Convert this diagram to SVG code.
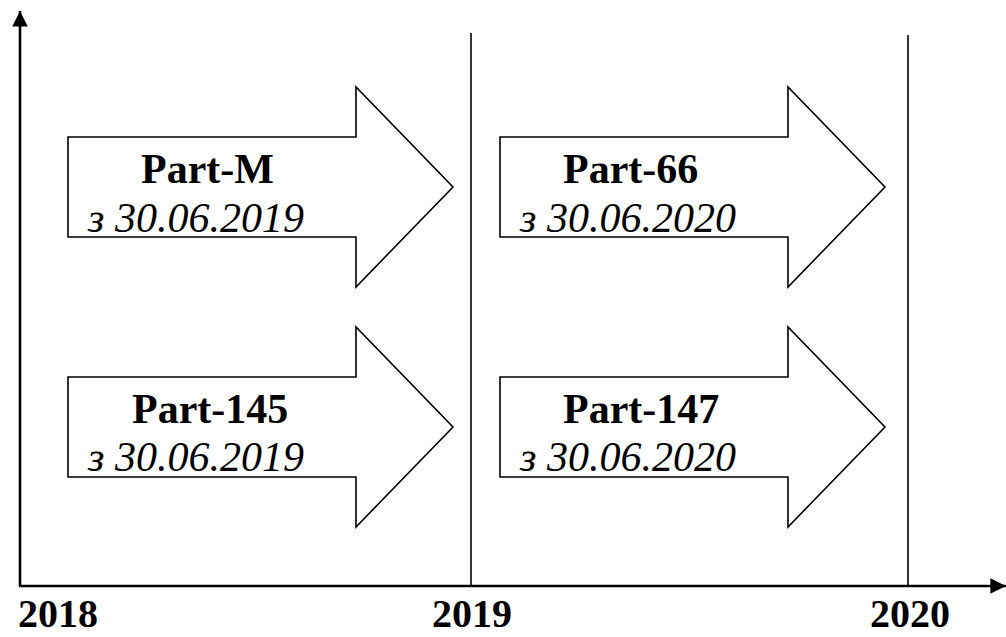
<svg xmlns="http://www.w3.org/2000/svg" width="1006" height="637" viewBox="0 0 1006 637">
<style>
.arrow{fill:#fff;stroke:#000;stroke-width:1.6;stroke-linejoin:miter}
.title{font-family:"Liberation Serif","Times New Roman",serif;font-weight:bold;font-size:42px;fill:#000}
.date{font-family:"Liberation Serif","Times New Roman",serif;font-style:italic;font-size:42px;fill:#000}
.year{font-family:"Liberation Serif","Times New Roman",serif;font-weight:bold;font-size:40px;fill:#000}
.axis{stroke:#000;stroke-width:2.6;fill:none}
.grid{stroke:#000;stroke-width:1.6;fill:none}
</style>
<defs>
<marker id="ah" viewBox="0 0 10 10" refX="10" refY="5" markerWidth="6" markerHeight="6" markerUnits="strokeWidth" orient="auto">
<path d="M0,0 L10,5 L0,10 z" fill="#000"/>
</marker>
</defs>
<rect width="1006" height="637" fill="#fff"/>
<g id="connectors">
<line class="grid" x1="471" y1="33" x2="471" y2="586"/>
<line class="grid" x1="908" y1="35" x2="908" y2="586"/>
<line class="axis" x1="20" y1="586" x2="20" y2="11" marker-end="url(#ah)"/>
<line class="axis" x1="19" y1="586" x2="1006" y2="586" marker-end="url(#ah)"/>
</g>
<g id="partM">
<polygon class="arrow" points="68,137 356,137 356,87 453,187 356,287 356,237 68,237"/>
<text class="title" x="141" y="183">Part-M</text>
<text class="date" x="88" y="232">з 30.06.2019</text>
</g>
<g id="part66">
<polygon class="arrow" points="500,137 788,137 788,87 885,187 788,287 788,237 500,237"/>
<text class="title" x="563" y="183">Part-66</text>
<text class="date" x="520" y="232">з 30.06.2020</text>
</g>
<g id="part145">
<polygon class="arrow" points="68,377 356,377 356,327 453,427 356,527 356,477 68,477"/>
<text class="title" x="132" y="423">Part-145</text>
<text class="date" x="88" y="471">з 30.06.2019</text>
</g>
<g id="part147">
<polygon class="arrow" points="500,377 788,377 788,327 885,427 788,527 788,477 500,477"/>
<text class="title" x="563" y="423">Part-147</text>
<text class="date" x="520" y="471">з 30.06.2020</text>
</g>
<g id="years">
<text class="year" x="18" y="627">2018</text>
<text class="year" x="432" y="627">2019</text>
<text class="year" x="870" y="627">2020</text>
</g>
</svg>
